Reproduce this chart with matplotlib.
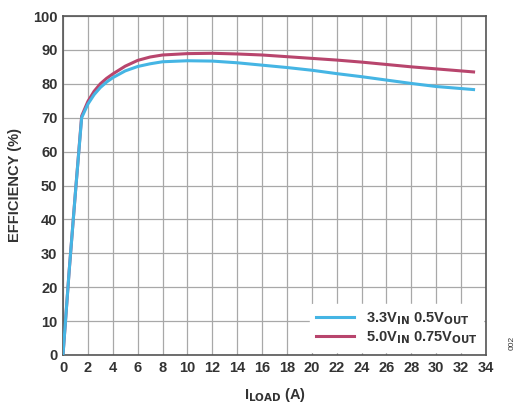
import numpy as np
import matplotlib.pyplot as plt

plt.rcParams['font.family'] = ['Liberation Sans', 'DejaVu Sans']

# efficiency curves
iload = [0, 0.1, 0.5, 1.0, 1.5, 2, 2.5, 3, 3.5, 4, 5, 6, 7, 8, 10, 12, 14, 16,
         18, 20, 22, 24, 26, 28, 30, 32, 33]
eff_33 = [0, 5, 25, 48, 70, 74.0, 76.8, 78.9, 80.5, 81.8, 83.8, 85.1, 85.9,
          86.5, 86.8, 86.7, 86.2, 85.5, 84.8, 84.0, 83.0, 82.1, 81.1, 80.1,
          79.2, 78.6, 78.3]
eff_50 = [0, 5, 25, 48, 70.5, 74.8, 77.8, 80.0, 81.6, 82.9, 85.2, 86.9, 87.9,
          88.5, 88.9, 89.0, 88.8, 88.5, 88.0, 87.5, 87.0, 86.4, 85.7, 85.0,
          84.4, 83.8, 83.5]
xticks = np.arange(0, 35, 2)
yticks = np.arange(0, 101, 10)

plt.rcParams['mathtext.default'] = 'bf'
fig = plt.figure(figsize=(5.17, 4.03), dpi=100)
ax = fig.add_axes([63/517, 1-355/403, 423/517, 339/403])

ax.plot(iload, eff_33, color='#45b5e4', lw=2.2, label='3.3V$_{\\mathbf{IN}}$ 0.5V$_{\\mathbf{OUT}}$', zorder=3)
ax.plot(iload, eff_50, color='#b8456d', lw=2.2, label='5.0V$_{\\mathbf{IN}}$ 0.75V$_{\\mathbf{OUT}}$', zorder=2)

ax.set_xlim(0, 34)
ax.set_ylim(0, 100)
ax.set_xticks(xticks)
ax.set_yticks(yticks)
ax.grid(True, color='#a8a8a8', lw=0.9)
ax.tick_params(length=0, pad=4, labelsize=10.5)
for lab in ax.get_xticklabels() + ax.get_yticklabels():
    lab.set_fontweight('bold')
    lab.set_color('#333333')
for s in ax.spines.values():
    s.set_color('#555555')
    s.set_linewidth(1.2)

ax.set_xlabel('I$_{\\mathbf{LOAD}}$ (A)', fontsize=10.5, fontweight='bold', color='#333333', labelpad=8)
ax.set_ylabel('EFFICIENCY (%)', fontsize=10.5, fontweight='bold', color='#333333', labelpad=8)

leg = ax.legend(loc='lower right', frameon=True, fontsize=10.5, handlelength=2.6,
                borderaxespad=0.2, labelspacing=0.2, handletextpad=0.8)
leg.get_frame().set_edgecolor('white')
leg.get_frame().set_facecolor('white')
leg.get_frame().set_alpha(1)
for t in leg.get_texts():
    t.set_fontweight('bold')
    t.set_color('#333333')

fig.text(512/517, 1-343/403, '002', rotation=90, fontsize=6, color='#333333',
         ha='center', va='center')

fig.savefig('out.png', dpi=100)
